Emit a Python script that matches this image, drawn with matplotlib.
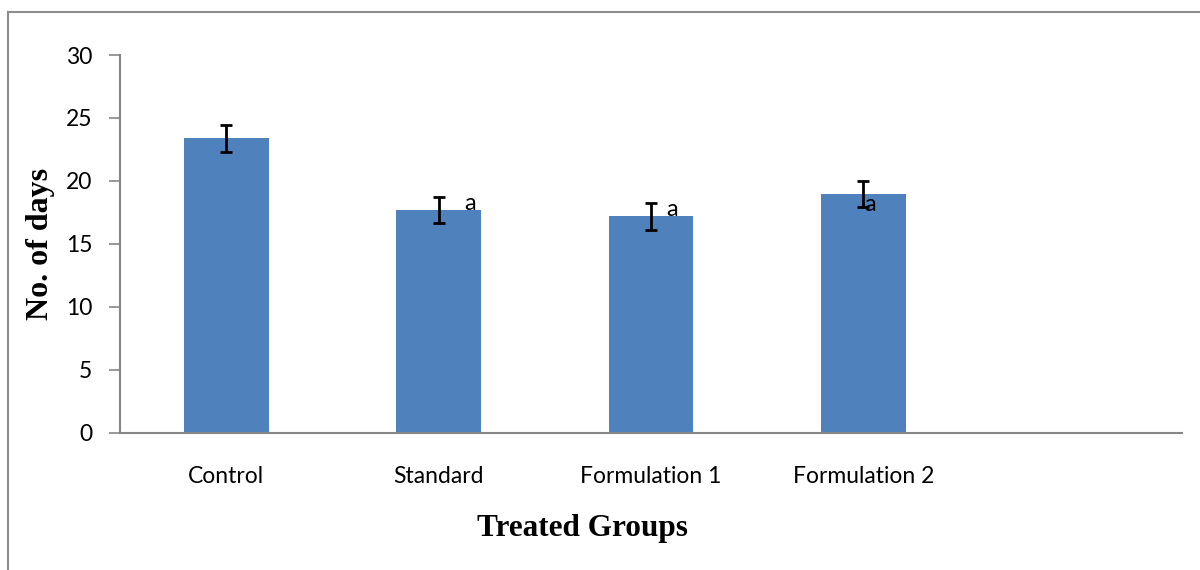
import matplotlib
matplotlib.use("Agg")
import matplotlib.pyplot as plt
from matplotlib.lines import Line2D

categories = ["Control", "Standard", "Formulation 1", "Formulation 2", ""]
values = [23.4, 17.7, 17.2, 19.0, None]
errors = [1.08, 1.03, 1.08, 1.03, None]
sig_labels = ["", "a", "a", "a", ""]
yticks = [0, 5, 10, 15, 20, 25, 30]

# label offsets (x in category units, y in data units) - layout only
sig_dx = [0, 0.15, 0.10, 0.03, 0]
sig_y = [0, 18.2, 17.7, 18.1, 0]

fig = plt.figure(figsize=(12, 5.7), dpi=100)
ax = fig.add_axes([0.1, 0.2404, 0.885, 0.6631])

bar_color = "#4f81bd"
xs = [i for i, v in enumerate(values) if v is not None]
vs = [v for v in values if v is not None]
es = [e for e in errors if e is not None]
ax.bar(xs, vs, width=0.4, color=bar_color, zorder=2)
ax.errorbar(xs, vs, yerr=es, fmt="none", ecolor="black", elinewidth=2,
            capsize=4.5, capthick=2, zorder=3)

for i, lab in enumerate(sig_labels):
    if lab:
        ax.text(i + sig_dx[i], sig_y[i], lab, fontsize=17, family="Lato",
                ha="center", va="center", zorder=4)

ax.set_xlim(-0.5, len(categories) - 0.5)
ax.set_ylim(0, 30)
ax.set_yticks(yticks)
ax.set_yticklabels([str(t) for t in yticks], fontsize=16.5, family="Lato")
ax.set_xticks(range(len(categories)))
ax.set_xticklabels(categories, fontsize=16.5, family="Lato")
ax.tick_params(axis="x", length=0, pad=24)
ax.tick_params(axis="y", length=8, width=1.2, color="#868686", pad=12)

for s in ["top", "right"]:
    ax.spines[s].set_visible(False)
for s in ["left", "bottom"]:
    ax.spines[s].set_color("#868686")
    ax.spines[s].set_linewidth(1.5)

ax.set_ylabel("No. of days", fontsize=23, family="Liberation Serif",
              fontweight="bold", labelpad=8)
ax.set_xlabel("Treated Groups", fontsize=22.5, family="Liberation Serif",
              fontweight="bold", labelpad=17)
ax.xaxis.set_label_coords(0.435, -0.215)

# outer chart frame (left and top edges visible)
fig.add_artist(Line2D([8/1200, 8/1200], [0, 1 - 12/570], transform=fig.transFigure,
                      color="#8c8c8c", lw=1.5))
fig.add_artist(Line2D([8/1200, 1], [1 - 12/570, 1 - 12/570], transform=fig.transFigure,
                      color="#8c8c8c", lw=1.5))

fig.savefig("out.png", dpi=100)
